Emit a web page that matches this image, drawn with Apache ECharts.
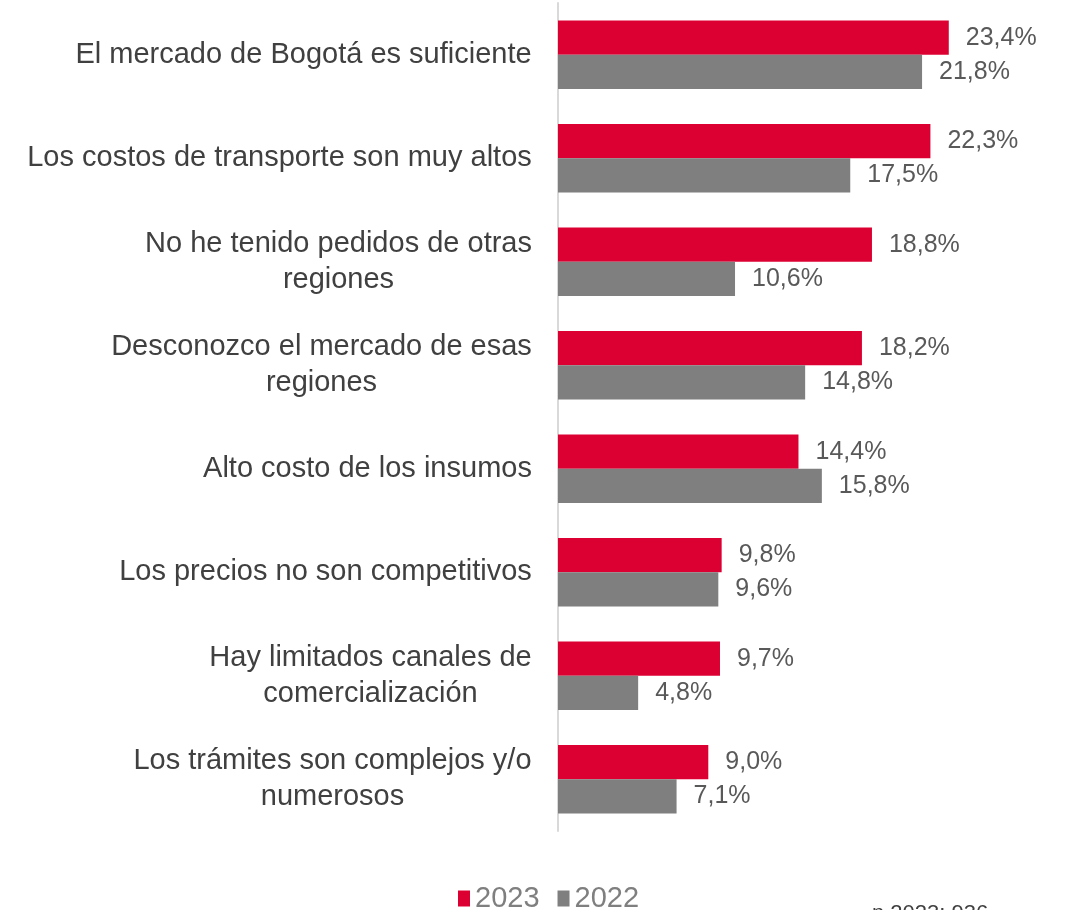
<!DOCTYPE html>
<html>
    <head>
        <meta charset="utf-8">
        <title>razones</title>
        <style>html,body{margin:0;padding:0;background:#fff}.chart{width:1069px;height:910px}</style>
    </head>
    <body>
        <div class="chart"></div>
        <script type="text/javascript" src="https://cdn.jsdelivr.net/npm/echarts@6/dist/echarts.min.js"></script>
        <script>
            const categories = [
                'El mercado de Bogotá es suficiente',
                'Los costos de transporte son muy altos',
                'No he tenido pedidos de otras\nregiones',
                'Desconozco el mercado de esas\nregiones',
                'Alto costo de los insumos',
                'Los precios no son competitivos',
                'Hay limitados canales de\ncomercialización',
                'Los trámites son complejos y/o\nnumerosos'
            ];
            const values2023 = [23.4, 22.3, 18.8, 18.2, 14.4, 9.8, 9.7, 9.0];
            const values2022 = [21.8, 17.5, 10.6, 14.8, 15.8, 9.6, 4.8, 7.1];
            const seriesNames = ['2023', '2022'];
            const noteText = 'n 2023: 936';

            const FONT = '"Liberation Sans", Arial, sans-serif';
            const $myChart = echarts.init(document.querySelector(".chart"));

            // ancho de cada etiqueta para centrar las lineas entre si
            const ctx = document.createElement('canvas').getContext('2d');
            ctx.font = '29px ' + FONT;
            const rich = {};
            categories.forEach((c, i) => {
                const w = Math.max(...c.split('\n').map(l => ctx.measureText(l).width));
                rich['c' + i] = { width: Math.ceil(w), align: 'center', fontSize: 29, lineHeight: 36, color: '#404040', fontFamily: FONT };
            });

            const fmt = v => v.toFixed(1).replace('.', ',') + '%';
            const labelOpt = {
                show: true, position: 'right', distance: 17,
                fontSize: 25, color: '#595959', fontFamily: FONT,
                formatter: p => fmt(p.value)
            };

            $myChart.setOption({
                animation: false,
                textStyle: { fontFamily: FONT },
                grid: { left: 558, right: 10, top: 3, bottom: 79 },
                xAxis: { type: 'value', min: 0, max: 30, show: false },
                yAxis: {
                    type: 'category', data: categories, inverse: true,
                    axisLine: { lineStyle: { color: '#d9d9d9', width: 2 } },
                    axisTick: { show: false },
                    axisLabel: {
                        margin: 26, align: 'right',
                        formatter: (v, i) => v.split('\n').map(l => '{c' + i + '|' + l + '}').join('\n'),
                        rich: rich
                    }
                },
                legend: {
                    left: 453, top: 879, itemWidth: 12, itemHeight: 16, itemGap: 18,
                    icon: 'rect',
                    textStyle: { fontSize: 29, color: '#7f7f7f', padding: [0, 0, 0, 0] },
                    data: seriesNames
                },
                graphic: [{
                    type: 'text', left: 872, top: 903,
                    style: { text: noteText, fontSize: 22, fill: '#404040', fontFamily: FONT }
                }],
                series: [
                    { name: seriesNames[0], type: 'bar', data: values2023, barGap: '0%', barCategoryGap: '34%',
                      itemStyle: { color: '#DC0032' }, label: labelOpt },
                    { name: seriesNames[1], type: 'bar', data: values2022,
                      itemStyle: { color: '#7F7F7F' }, label: labelOpt }
                ]
            });
        </script>
    </body>
</html>
